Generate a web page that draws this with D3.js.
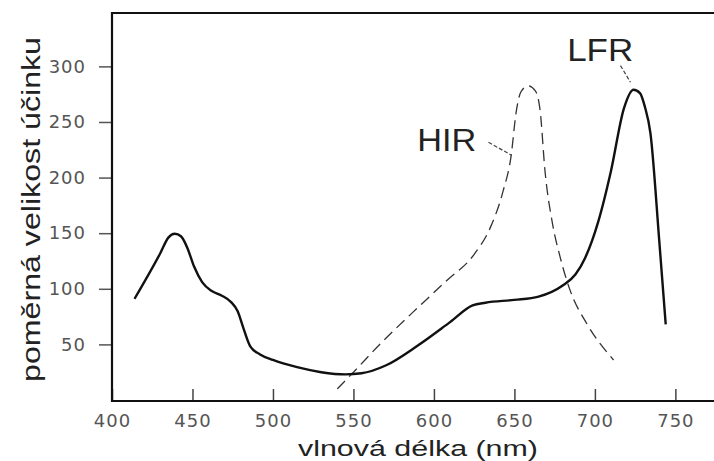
<!DOCTYPE html>
<html>
<head>
<meta charset="utf-8">
<script src="https://cdn.jsdelivr.net/npm/d3@7"></script>
<style>
  body { margin: 0; background: #fff; }
  svg { display: block; }
  text { font-family: "Liberation Sans", Arial, sans-serif; }
</style>
</head>
<body>
<div id="chart"></div>
<script>
const width = 714;
const height = 461;

// tick labels
const xTicks = [400, 450, 500, 550, 600, 650, 700, 750];
const yTicks = [50, 100, 150, 200, 250, 300];

// LFR (solid line)
const lfrNm = [414, 430, 435, 439, 443, 447, 451, 456, 462, 468, 474, 478, 482, 486, 492, 500,
    515, 530, 545, 555, 570, 590, 610, 624, 632, 650, 665, 680, 688, 694, 702, 710, 718, 724,
    728, 731, 734.5, 740, 744];
const lfrValues = [91, 132, 146, 149.5, 147, 136, 120, 106, 98, 94, 88, 80, 63, 48, 41, 36,
    29.5, 25, 23, 24, 31, 49, 70, 85, 87.5, 90, 93, 103, 113, 128, 160, 206, 262, 279,
    276, 264, 240, 143, 68];

// HIR (dashed line)
const hirNm = [540, 550, 567, 587, 608, 625, 635, 643, 648, 651, 654, 658.5, 663, 666, 669,
    673.5, 678.5, 684.5, 695, 711.6];
const hirValues = [10, 25, 51, 79, 107.5, 131, 155, 188, 220, 258, 277, 282.5, 278, 260, 206,
    160, 128, 99, 68.6, 36];

const svg = d3.select("#chart").append("svg")
    .attr("width", width)
    .attr("height", height);

const x = d3.scaleLinear().domain([400, 774]).range([112, 714]);
const y = d3.scaleLinear().domain([0, 348]).range([400, 13]);

// y axis, ticks pointing out
const yAxis = svg.append("g")
    .attr("transform", `translate(${x(400)},0)`)
    .call(d3.axisLeft(y).tickValues(yTicks).tickSize(13).tickPadding(13));
yAxis.select(".domain").remove();
yAxis.selectAll(".tick line").attr("stroke", "#555").attr("stroke-width", 1.5);
yAxis.selectAll(".tick text")
    .attr("fill", "#555")
    .style("font-family", "DejaVu Sans")
    .style("font-size", "18px")
    .style("letter-spacing", "1px");

// x axis, ticks pointing in
const xAxis = svg.append("g")
    .attr("transform", `translate(0,${y(0) + 1})`)
    .call(d3.axisBottom(x).tickValues(xTicks).tickSizeInner(-12).tickSizeOuter(0).tickPadding(13));
xAxis.select(".domain").remove();
xAxis.selectAll(".tick line").attr("stroke", "#444").attr("stroke-width", 1.5);
xAxis.selectAll(".tick text")
    .attr("fill", "#555")
    .style("font-family", "DejaVu Sans")
    .style("font-size", "18px")
    .style("letter-spacing", "1px");

// frame: left, top, bottom
const [x0, x1] = x.range();
const [yb, yt] = y.range();
svg.append("path")
    .attr("d", `M${x1},${yt}H${x0}V${yb + 1}H${x1}`)
    .attr("fill", "none")
    .attr("stroke", "#111")
    .attr("stroke-width", 2.2);

const line = d3.line()
    .x(d => x(d[0]))
    .y(d => y(d[1]))
    .curve(d3.curveMonotoneX);

svg.append("path")
    .datum(d3.zip(hirNm, hirValues))
    .attr("d", line)
    .attr("fill", "none")
    .attr("stroke", "#333")
    .attr("stroke-width", 1.3)
    .attr("stroke-dasharray", "11,6");

svg.append("path")
    .datum(d3.zip(lfrNm, lfrValues))
    .attr("d", line)
    .attr("fill", "none")
    .attr("stroke", "#111")
    .attr("stroke-width", 2.4);

// labels with leader lines
const labels = [
    {text: "HIR", nm: 589.6, v: 223.5, len: 59, from: [633.9, 231.8], to: [648.4, 219.9]},
    {text: "LFR", nm: 682.8, v: 305.2, len: 66, from: [715.9, 300.7], to: [722.1, 285.7]}
];
labels.forEach(l => {
    svg.append("text")
        .attr("x", x(l.nm))
        .attr("y", y(l.v))
        .attr("textLength", l.len)
        .attr("lengthAdjust", "spacingAndGlyphs")
        .attr("fill", "#222")
        .style("font-size", "31px")
        .text(l.text);
    svg.append("line")
        .attr("x1", x(l.from[0])).attr("y1", y(l.from[1]))
        .attr("x2", x(l.to[0])).attr("y2", y(l.to[1]))
        .attr("stroke", "#444")
        .attr("stroke-width", 1.2)
        .attr("stroke-dasharray", "4,2");
});

// axis titles
svg.append("text")
    .attr("x", 298)
    .attr("y", 456)
    .attr("textLength", 240)
    .attr("lengthAdjust", "spacingAndGlyphs")
    .attr("fill", "#222")
    .style("font-size", "22px")
    .text("vlnová délka (nm)");

svg.append("text")
    .attr("transform", "translate(40,382) rotate(-90)")
    .attr("textLength", 345)
    .attr("lengthAdjust", "spacingAndGlyphs")
    .attr("fill", "#222")
    .style("font-size", "25px")
    .text("poměrná velikost účinku");
</script>
</body>
</html>
